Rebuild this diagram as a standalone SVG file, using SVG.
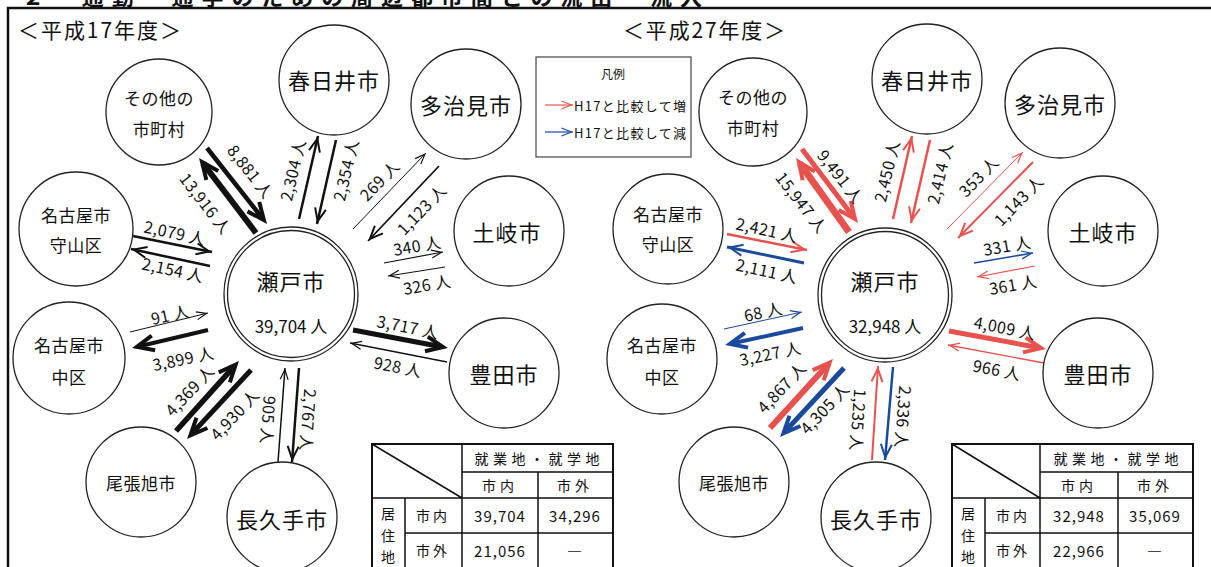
<svg xmlns="http://www.w3.org/2000/svg" width="1211" height="567" viewBox="0 0 1211 567">
<style>
text{font-family:"Noto Sans CJK JP","Noto Sans",sans-serif;fill:#111}
.node circle{fill:#fff;stroke:#222;stroke-width:1.3}
.nl{font-size:22px;text-anchor:middle;dominant-baseline:central;letter-spacing:1px}
.ns{font-size:17px;text-anchor:middle;dominant-baseline:central;letter-spacing:0.5px}
.lb{font-size:16px;text-anchor:middle;dominant-baseline:central;letter-spacing:0.4px}
.a{fill:none;stroke-linecap:butt}
.k{stroke:#111}.r{stroke:#E8524E}.b{stroke:#1A4A9E}
.th{stroke-dasharray:93 200}
.tb{font-size:14px;text-anchor:middle;dominant-baseline:central}
.tn{font-size:15px;text-anchor:middle;dominant-baseline:central;letter-spacing:1px}
.tl{stroke:#111;stroke-width:1.5;fill:none}
</style>
<defs>
<marker id="kS" markerUnits="userSpaceOnUse" orient="auto" overflow="visible" markerWidth="1" markerHeight="1"><path d="M-11.6,-4 L-1.6,0 L-11.6,4" fill="none" stroke="#111" stroke-width="1.2"/></marker>
<marker id="kM" markerUnits="userSpaceOnUse" orient="auto" overflow="visible" markerWidth="1" markerHeight="1"><path d="M-15.8,-5.5 L-2.8,0 L-15.8,5.5" fill="none" stroke="#111" stroke-width="2"/></marker>
<marker id="kL" markerUnits="userSpaceOnUse" orient="auto" overflow="visible" markerWidth="1" markerHeight="1"><path d="M-22,-7.5 L-5,0 L-22,7.5" fill="none" stroke="#111" stroke-width="4"/></marker>
<marker id="rS" markerUnits="userSpaceOnUse" orient="auto" overflow="visible" markerWidth="1" markerHeight="1"><path d="M-11.6,-4 L-1.6,0 L-11.6,4" fill="none" stroke="#E8524E" stroke-width="1.2"/></marker>
<marker id="rM" markerUnits="userSpaceOnUse" orient="auto" overflow="visible" markerWidth="1" markerHeight="1"><path d="M-15.8,-5.5 L-2.8,0 L-15.8,5.5" fill="none" stroke="#E8524E" stroke-width="2"/></marker>
<marker id="rL" markerUnits="userSpaceOnUse" orient="auto" overflow="visible" markerWidth="1" markerHeight="1"><path d="M-22,-7.5 L-5,0 L-22,7.5" fill="none" stroke="#E8524E" stroke-width="4"/></marker>
<marker id="bS" markerUnits="userSpaceOnUse" orient="auto" overflow="visible" markerWidth="1" markerHeight="1"><path d="M-11.6,-4 L-1.6,0 L-11.6,4" fill="none" stroke="#1A4A9E" stroke-width="1.2"/></marker>
<marker id="bM" markerUnits="userSpaceOnUse" orient="auto" overflow="visible" markerWidth="1" markerHeight="1"><path d="M-15.8,-5.5 L-2.8,0 L-15.8,5.5" fill="none" stroke="#1A4A9E" stroke-width="2"/></marker>
<marker id="bL" markerUnits="userSpaceOnUse" orient="auto" overflow="visible" markerWidth="1" markerHeight="1"><path d="M-22,-7.5 L-5,0 L-22,7.5" fill="none" stroke="#1A4A9E" stroke-width="4"/></marker>
</defs>
<rect width="1211" height="567" fill="#fff"/>
<text x="22" y="5" font-size="22" font-weight="bold" textLength="680" lengthAdjust="spacing">２　通勤・通学のための周辺都市間との流出・流入</text>
<path d="M8,567 V8 H1211" fill="none" stroke="#111" stroke-width="2.5"/>
<text x="18" y="38" font-size="21" textLength="163" lengthAdjust="spacing">＜平成17年度＞</text>
<text x="623" y="38" font-size="21" textLength="162" lengthAdjust="spacing">＜平成27年度＞</text>

<g id="connectors">
<path class="a k th" stroke-width="4.5" marker-end="url(#kL)" pathLength="100" d="M207,148 L267,224"/>
<path class="a k th" stroke-width="6" marker-end="url(#kL)" pathLength="100" d="M256,233 L199,158"/>
<path class="a k" stroke-width="2.5" marker-end="url(#kM)" d="M133,236 L212,252"/>
<path class="a k" stroke-width="2.5" marker-end="url(#kM)" d="M210,266 L131,249"/>
<path class="a k" stroke-width="2.5" marker-end="url(#kM)" d="M299,219 L318,136"/>
<path class="a k" stroke-width="2.5" marker-end="url(#kM)" d="M336,140 L317,224"/>
<path class="a k" stroke-width="1" marker-end="url(#kS)" d="M353,229 L426,153"/>
<path class="a k" stroke-width="1.8" marker-end="url(#kM)" d="M439,166 L368,241"/>
<path class="a k" stroke-width="1.2" marker-end="url(#kS)" d="M384,263 L443,252"/>
<path class="a k" stroke-width="1" marker-end="url(#kS)" d="M445,267 L388,276"/>
<path class="a k th" stroke-width="5" marker-end="url(#kL)" pathLength="100" d="M353,330 L448,348"/>
<path class="a k" stroke-width="1.3" marker-end="url(#kS)" d="M447,362 L350,343"/>
<path class="a k" stroke-width="1.5" marker-end="url(#kS)" d="M278,462 L285,368"/>
<path class="a k" stroke-width="2.5" marker-end="url(#kM)" d="M299,368 L292,462"/>
<path class="a k th" stroke-width="5.5" marker-end="url(#kL)" pathLength="100" d="M176,431 L239,361"/>
<path class="a k th" stroke-width="5" marker-end="url(#kL)" pathLength="100" d="M251,370 L187,439"/>
<path class="a k" stroke-width="1" marker-end="url(#kS)" d="M130,332 L208,313"/>
<path class="a k th" stroke-width="4" marker-end="url(#kL)" pathLength="100" d="M208,330 L132,348"/>

<path class="a r th" stroke-width="5" marker-end="url(#rL)" pathLength="100" d="M802,149 L858,223"/>
<path class="a r th" stroke-width="7" marker-end="url(#rL)" pathLength="100" d="M849,232 L796,158"/>
<path class="a r" stroke-width="2.5" marker-end="url(#rM)" d="M727,234 L807,250"/>
<path class="a b" stroke-width="3" marker-end="url(#bM)" d="M804,263 L727,247"/>
<path class="a r" stroke-width="2.5" marker-end="url(#rM)" d="M893,219 L912,136"/>
<path class="a r" stroke-width="2.5" marker-end="url(#rM)" d="M930,140 L911,223"/>
<path class="a r" stroke-width="1" marker-end="url(#rS)" d="M947,229 L1023,152"/>
<path class="a r" stroke-width="2" marker-end="url(#rM)" d="M1033,162 L958,238"/>
<path class="a b" stroke-width="1.5" marker-end="url(#bS)" d="M974,263 L1033,253"/>
<path class="a r" stroke-width="1.2" marker-end="url(#rS)" d="M1035,266 L977,277"/>
<path class="a r th" stroke-width="5" marker-end="url(#rL)" pathLength="100" d="M949,331 L1046,349"/>
<path class="a r" stroke-width="1.3" marker-end="url(#rS)" d="M1044,363 L948,345"/>
<path class="a r" stroke-width="2" marker-end="url(#rM)" d="M872,460 L878,366"/>
<path class="a b" stroke-width="2.5" marker-end="url(#bM)" d="M893,367 L885,460"/>
<path class="a r th" stroke-width="6" marker-end="url(#rL)" pathLength="100" d="M770,428 L833,359"/>
<path class="a b th" stroke-width="5" marker-end="url(#bL)" pathLength="100" d="M844,368 L780,437"/>
<path class="a b" stroke-width="1" marker-end="url(#bS)" d="M724,329 L802,312"/>
<path class="a b th" stroke-width="4" marker-end="url(#bL)" pathLength="100" d="M803,328 L725,345"/>
</g>

<g id="labels">
<text class="lb" transform="translate(251,171) rotate(52)">8,881 人</text>
<text class="lb" transform="translate(206,203) rotate(52)">13,916 人</text>
<text class="lb" transform="translate(175,232) rotate(12)">2,079 人</text>
<text class="lb" transform="translate(173,269) rotate(12)">2,154 人</text>
<text class="lb" transform="translate(292,170) rotate(-77)">2,304 人</text>
<text class="lb" transform="translate(345,170) rotate(-77)">2,354 人</text>
<text class="lb" transform="translate(379,180) rotate(-46)">269 人</text>
<text class="lb" transform="translate(421,209) rotate(-46)">1,123 人</text>
<text class="lb" transform="translate(417,245) rotate(-10)">340 人</text>
<text class="lb" transform="translate(427,284) rotate(-10)">326 人</text>
<text class="lb" transform="translate(408,326) rotate(11)">3,717 人</text>
<text class="lb" transform="translate(398,366) rotate(11)">928 人</text>
<text class="lb" transform="translate(269,420) rotate(94)">905 人</text>
<text class="lb" transform="translate(309,420) rotate(94)">2,767 人</text>
<text class="lb" transform="translate(189,390) rotate(-47)">4,369 人</text>
<text class="lb" transform="translate(234,414) rotate(-47)">4,930 人</text>
<text class="lb" transform="translate(170,314) rotate(-12)">91 人</text>
<text class="lb" transform="translate(183,358) rotate(-12)">3,899 人</text>

<text class="lb" transform="translate(841,176) rotate(52)">9,491 人</text>
<text class="lb" transform="translate(802,202) rotate(52)">15,947 人</text>
<text class="lb" transform="translate(767,229) rotate(12)">2,421 人</text>
<text class="lb" transform="translate(767,270) rotate(12)">2,111 人</text>
<text class="lb" transform="translate(886,171) rotate(-77)">2,450 人</text>
<text class="lb" transform="translate(939,173) rotate(-77)">2,414 人</text>
<text class="lb" transform="translate(978,176) rotate(-46)">353 人</text>
<text class="lb" transform="translate(1018,200) rotate(-46)">1,143 人</text>
<text class="lb" transform="translate(1007,245) rotate(-10)">331 人</text>
<text class="lb" transform="translate(1013,284) rotate(-10)">361 人</text>
<text class="lb" transform="translate(1005,327) rotate(11)">4,009 人</text>
<text class="lb" transform="translate(997,369) rotate(11)">966 人</text>
<text class="lb" transform="translate(859,420) rotate(94)">1,235 人</text>
<text class="lb" transform="translate(904,417) rotate(94)">2,336 人</text>
<text class="lb" transform="translate(781,387) rotate(-47)">4,867 人</text>
<text class="lb" transform="translate(824,408) rotate(-47)">4,305 人</text>
<text class="lb" transform="translate(763,311) rotate(-12)">68 人</text>
<text class="lb" transform="translate(770,353) rotate(-12)">3,227 人</text>
</g>

<g id="L-seto" class="node"><circle cx="291" cy="294" r="67"/><circle cx="291" cy="294" r="63.5"/><text class="nl" x="291" y="280">瀬戸市</text><text x="291" y="325" font-size="17" text-anchor="middle" dominant-baseline="central">39,704 人</text></g>
<g id="L-sonota" class="node"><circle cx="159" cy="112" r="53"/><text class="ns" x="159" y="97">その他の</text><text class="ns" x="159" y="128">市町村</text></g>
<g id="L-moriyama" class="node"><circle cx="76" cy="229" r="57"/><text class="ns" x="76" y="214">名古屋市</text><text class="ns" x="76" y="244">守山区</text></g>
<g id="L-kasugai" class="node"><circle cx="334" cy="80" r="55"/><text class="nl" x="334" y="79">春日井市</text></g>
<g id="L-tajimi" class="node"><circle cx="466" cy="104" r="55"/><text class="nl" x="466" y="104">多治見市</text></g>
<g id="L-toki" class="node"><circle cx="509" cy="231" r="55"/><text class="nl" x="507" y="231">土岐市</text></g>
<g id="L-toyota" class="node"><circle cx="504" cy="373" r="55"/><text class="nl" x="504" y="373">豊田市</text></g>
<g id="L-nagakute" class="node"><circle cx="282" cy="517" r="55"/><text class="nl" x="282" y="518">長久手市</text></g>
<g id="L-owariasahi" class="node"><circle cx="141" cy="482" r="55"/><text class="ns" x="141" y="482">尾張旭市</text></g>
<g id="L-naka" class="node"><circle cx="69" cy="358" r="56"/><text class="ns" x="69" y="344">名古屋市</text><text class="ns" x="69" y="376">中区</text></g>

<g id="R-seto" class="node"><circle cx="885" cy="295" r="67"/><circle cx="885" cy="295" r="63.5"/><text class="nl" x="885" y="280">瀬戸市</text><text x="885" y="325" font-size="17" text-anchor="middle" dominant-baseline="central">32,948 人</text></g>
<g id="R-sonota" class="node"><circle cx="753" cy="112" r="54"/><text class="ns" x="753" y="96">その他の</text><text class="ns" x="753" y="127">市町村</text></g>
<g id="R-moriyama" class="node"><circle cx="668" cy="229" r="55"/><text class="ns" x="668" y="213">名古屋市</text><text class="ns" x="668" y="243">守山区</text></g>
<g id="R-kasugai" class="node"><circle cx="927" cy="79" r="55"/><text class="nl" x="927" y="79">春日井市</text></g>
<g id="R-tajimi" class="node"><circle cx="1060" cy="103" r="55"/><text class="nl" x="1060" y="103">多治見市</text></g>
<g id="R-toki" class="node"><circle cx="1103" cy="231" r="55"/><text class="nl" x="1103" y="231">土岐市</text></g>
<g id="R-toyota" class="node"><circle cx="1098" cy="373" r="55"/><text class="nl" x="1098" y="373">豊田市</text></g>
<g id="R-nagakute" class="node"><circle cx="876" cy="517" r="55"/><text class="nl" x="876" y="518">長久手市</text></g>
<g id="R-owariasahi" class="node"><circle cx="734" cy="482" r="55"/><text class="ns" x="734" y="482">尾張旭市</text></g>
<g id="R-naka" class="node"><circle cx="662" cy="359" r="55"/><text class="ns" x="662" y="344">名古屋市</text><text class="ns" x="662" y="376">中区</text></g>

<g id="legend">
<rect x="536" y="57" width="155" height="100" fill="#fff" stroke="#444" stroke-width="1.2"/>
<text x="613" y="73" font-size="12" text-anchor="middle" dominant-baseline="central">凡例</text>
<path class="a r" stroke-width="1.2" marker-end="url(#rS)" d="M545,105 L573,105"/>
<text x="574" y="105" font-size="13" dominant-baseline="central" textLength="112" lengthAdjust="spacing">H17と比較して増</text>
<path class="a b" stroke-width="1.2" marker-end="url(#bS)" d="M545,132 L573,132"/>
<text x="574" y="132" font-size="13" dominant-baseline="central" textLength="112" lengthAdjust="spacing">H17と比較して減</text>
</g>

<g id="table-h17">
<rect x="372" y="444" width="241" height="130" fill="#fff" stroke="#111" stroke-width="2"/>
<path class="tl" d="M372,444 L462,498 M462,444 V567 M462,472 H613 M538,472 V567 M372,498 H613 M405,498 V567 M405,533 H613"/>
<text class="tb" x="537" y="458" textLength="125" lengthAdjust="spacing">就業地・就学地</text>
<text class="tb" x="500" y="485" letter-spacing="4">市内</text>
<text class="tb" x="575" y="485" letter-spacing="4">市外</text>
<text class="tb" x="433" y="515" letter-spacing="3">市内</text>
<text class="tb" x="433" y="550" letter-spacing="3">市外</text>
<text class="tb" x="388" y="513">居</text><text class="tb" x="388" y="535">住</text><text class="tb" x="388" y="556">地</text>
<text class="tn" x="500" y="515">39,704</text>
<text class="tn" x="575" y="515">34,296</text>
<text class="tn" x="500" y="550">21,056</text>
<text class="tn" x="575" y="550">―</text>
</g>

<g id="table-h27">
<rect x="952" y="444" width="241" height="130" fill="#fff" stroke="#111" stroke-width="2"/>
<path class="tl" d="M952,444 L1040,498 M1040,444 V567 M1040,472 H1193 M1118,472 V567 M952,498 H1193 M985,498 V567 M985,533 H1193"/>
<text class="tb" x="1116" y="458" textLength="125" lengthAdjust="spacing">就業地・就学地</text>
<text class="tb" x="1079" y="485" letter-spacing="4">市内</text>
<text class="tb" x="1155" y="485" letter-spacing="4">市外</text>
<text class="tb" x="1013" y="515" letter-spacing="3">市内</text>
<text class="tb" x="1013" y="550" letter-spacing="3">市外</text>
<text class="tb" x="968" y="513">居</text><text class="tb" x="968" y="535">住</text><text class="tb" x="968" y="556">地</text>
<text class="tn" x="1079" y="515">32,948</text>
<text class="tn" x="1155" y="515">35,069</text>
<text class="tn" x="1079" y="550">22,966</text>
<text class="tn" x="1155" y="550">―</text>
</g>
</svg>
